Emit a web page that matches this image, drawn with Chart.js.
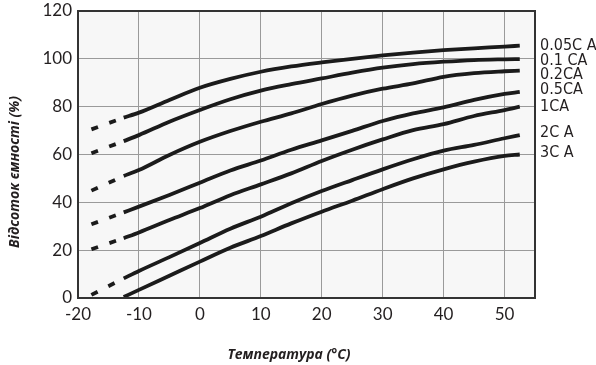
<!DOCTYPE html>
<html><head><meta charset="utf-8">
<script src="https://cdn.jsdelivr.net/npm/chart.js@4/dist/chart.umd.min.js"></script>
<style>html,body{margin:0;padding:0;background:#fff;}#wrap{position:relative;width:596px;height:365px;}</style>
</head><body><div id="wrap"><canvas id="c" width="596" height="365"></canvas></div>
<script>
// Temperatures (°C) of the solid part of each curve
const temps = [-12.5, -10, -5, 0, 5, 10, 15, 20, 25, 30, 35, 40, 45, 50, 52.5];
// Temperatures of the dashed (extrapolated) part
const dashTemps = [-17.8, -12.5];
const seriesNames = ['0.05C A', '0.1 CA', '0.2CA', '0.5CA', '1CA', '2C A', '3C A'];
// Capacity retention (%) for each discharge rate
const c005 = [75.4, 77.5, 82.8, 87.9, 91.6, 94.6, 96.8, 98.5, 100.0, 101.4, 102.6, 103.6, 104.4, 105.1, 105.5];
const c01  = [65.6, 68.1, 73.7, 78.6, 83.1, 86.7, 89.4, 91.8, 94.2, 96.3, 97.8, 98.8, 99.5, 99.8, 99.9];
const c02  = [51.0, 53.5, 59.8, 65.3, 69.8, 73.7, 77.2, 81.1, 84.6, 87.5, 89.7, 92.5, 94.0, 94.8, 95.1];
const c05  = [35.8, 38.2, 43.1, 48.2, 53.3, 57.5, 62.0, 65.9, 69.9, 74.0, 77.2, 79.7, 82.8, 85.3, 86.2];
const c1   = [25.0, 27.4, 32.6, 37.6, 43.0, 47.5, 52.1, 57.3, 62.0, 66.3, 70.2, 72.7, 76.1, 78.6, 80.0];
const c2   = [8.2, 11.3, 17.1, 23.0, 29.0, 34.0, 39.6, 44.7, 49.3, 53.8, 58.0, 61.6, 64.0, 66.8, 68.1];
const c3   = [0.4, 3.4, 9.3, 15.2, 21.0, 25.9, 31.2, 36.1, 40.7, 45.5, 50.0, 53.8, 57.0, 59.4, 60.0];
// Start value of the dashed part for each curve (null = no dashed part)
const dashStart = [70.5, 60.5, 44.9, 30.8, 20.4, 1.3, null];
const xTicks = [-20, -10, 0, 10, 20, 30, 40, 50];
const yTicks = [0, 20, 40, 60, 80, 100, 120];
const xTitle = 'Температура (°C)';
const yTitle = 'Відсоток ємності (%)';

const allSeries = [c005, c01, c02, c05, c1, c2, c3];
const LINE = '#1b1b1b';
const datasets = [];
allSeries.forEach((vals, i) => {
  datasets.push({
    label: seriesNames[i],
    data: temps.map((t, k) => ({x: t, y: vals[k]})),
    borderColor: LINE, borderWidth: 3.8, pointRadius: 0,
    cubicInterpolationMode: 'monotone', fill: false, borderCapStyle: 'butt'
  });
});
allSeries.forEach((vals, i) => {
  if (dashStart[i] === null) return;
  datasets.push({
    label: seriesNames[i] + ' (dash)',
    data: [{x: dashTemps[0], y: dashStart[i]}, {x: dashTemps[1], y: vals[0]}],
    borderColor: LINE, borderWidth: 3.8, pointRadius: 0, borderDash: [7, 12],
    borderCapStyle: 'butt', fill: false
  });
});

const labelOffsets = [0.5, 1.5, 4, -2, 0, -2, -1.5];

const framePlugin = {
  id: 'frame',
  beforeDraw(chart) {
    const {ctx, chartArea: a} = chart;
    ctx.save();
    ctx.fillStyle = '#f7f7f7';
    ctx.fillRect(a.left, a.top, a.right - a.left, a.bottom - a.top);
    ctx.restore();
  },
  afterDraw(chart) {
    const {ctx, chartArea: a} = chart;
    ctx.save();
    ctx.strokeStyle = '#333';
    ctx.lineWidth = 2;
    ctx.strokeRect(a.left, a.top, a.right - a.left, a.bottom - a.top);
    // right labels
    ctx.fillStyle = '#231f20';
    ctx.font = '16px "Liberation Sans Narrow", "DejaVu Sans Condensed", sans-serif';
    ctx.textAlign = 'left';
    ctx.textBaseline = 'middle';
    allSeries.forEach((v, i) => {
      const meta = chart.getDatasetMeta(i);
      const p = meta.data[meta.data.length - 1];
      ctx.fillText(seriesNames[i], a.right + 5, p.y + labelOffsets[i]);
    });
    // axis titles
    ctx.font = 'italic bold 14px "Open Sans", sans-serif';
    ctx.textAlign = 'center';
    ctx.fillText(xTitle, 289, 355);
    ctx.translate(15, 172);
    ctx.rotate(-Math.PI / 2);
    ctx.fillText(yTitle, 0, 0);
    ctx.restore();
  }
};

new Chart(document.getElementById('c'), {
  type: 'line',
  data: {datasets},
  plugins: [framePlugin],
  options: {
    responsive: false, animation: false, devicePixelRatio: 1,
    layout: {padding: {left: 0, top: 11, right: 61, bottom: 0}},
    plugins: {legend: {display: false}, tooltip: {enabled: false}},
    scales: {
      x: {
        type: 'linear', min: -20, max: 55,
        afterBuildTicks(s) { s.ticks = xTicks.map(v => ({value: v})); },
        afterFit(s) { s.height = 67; s.paddingLeft = 0; s.paddingRight = 0; },
        grid: {color: '#9a9a9a', lineWidth: 1, drawTicks: false},
        border: {display: false},
        ticks: {color: '#231f20', padding: 6, font: {family: 'Lato', size: 17}, maxRotation: 0}
      },
      y: {
        type: 'linear', min: 0, max: 120,
        afterBuildTicks(s) { s.ticks = yTicks.map(v => ({value: v})); },
        afterFit(s) { s.width = 78; s.paddingTop = 0; s.paddingBottom = 0; },
        grid: {color: '#9a9a9a', lineWidth: 1, drawTicks: false},
        border: {display: false},
        ticks: {color: '#231f20', padding: 6, font: {family: 'Lato', size: 17}}
      }
    }
  }
});
</script></body></html>
